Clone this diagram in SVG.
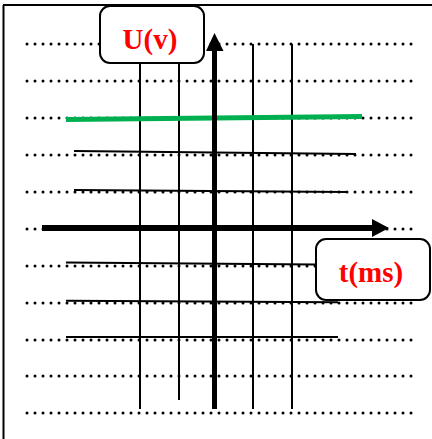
<svg xmlns="http://www.w3.org/2000/svg" width="432" height="439" viewBox="0 0 432 439">
  <style>
    .dots { stroke: #000; stroke-width: 3; stroke-linecap: round; stroke-dasharray: 0 8; fill: none; }
    .solid { stroke: #000; stroke-width: 2; fill: none; }
    .vline { stroke: #000; stroke-width: 2; fill: none; }
    .box { fill: #fff; stroke: #000; stroke-width: 2; }
    .lbl { font-family: "Liberation Serif", "Times New Roman", serif; font-weight: bold; font-size: 29px; fill: #ff0000; text-anchor: middle; }
  </style>
  <rect x="0" y="0" width="432" height="439" fill="#fff"/>
  <g id="frame">
    <line x1="3" y1="5" x2="432" y2="5" stroke="#000" stroke-width="2"/>
    <line x1="3.5" y1="5" x2="3.5" y2="439" stroke="#000" stroke-width="2"/>
  </g>
  <g id="dotted-rows">
    <line class="dots" x1="27" y1="44" x2="412" y2="44"/>
    <line class="dots" x1="27" y1="81" x2="412" y2="81"/>
    <line class="dots" x1="27" y1="118" x2="412" y2="118"/>
    <line class="dots" x1="27" y1="155" x2="412" y2="155"/>
    <line class="dots" x1="27" y1="192" x2="412" y2="192"/>
    <line class="dots" x1="27" y1="229" x2="412" y2="229"/>
    <line class="dots" x1="27" y1="266" x2="412" y2="266"/>
    <line class="dots" x1="27" y1="303" x2="412" y2="303"/>
    <line class="dots" x1="27" y1="340" x2="412" y2="340"/>
    <line class="dots" x1="27" y1="376" x2="412" y2="376"/>
    <line class="dots" x1="27" y1="413" x2="412" y2="413"/>
  </g>
  <g id="connectors">
    <line class="solid" x1="74" y1="151" x2="356" y2="154"/>
    <line class="solid" x1="74" y1="190" x2="347" y2="192"/>
    <line class="solid" x1="66" y1="262.5" x2="316" y2="264.5"/>
    <line class="solid" x1="66" y1="300.7" x2="338" y2="302.3"/>
    <line class="solid" x1="66" y1="337" x2="338" y2="337"/>
    <line class="vline" x1="140" y1="63" x2="140" y2="409"/>
    <line class="vline" x1="179" y1="63" x2="179" y2="400"/>
    <line class="vline" x1="253" y1="44" x2="253" y2="409"/>
    <line class="vline" x1="292" y1="44" x2="292" y2="409"/>
    <line x1="66" y1="119.5" x2="362" y2="116.5" stroke="#00b050" stroke-width="5"/>
    <line x1="42" y1="228" x2="374" y2="228" stroke="#000" stroke-width="6"/>
    <polygon points="372,219 389,228 372,237" fill="#000"/>
    <line x1="214.5" y1="409" x2="214.5" y2="50" stroke="#000" stroke-width="5"/>
    <polygon points="206,51 214.5,33 223.5,51" fill="#000"/>
  </g>
  <g id="node-u">
    <rect class="box" x="100" y="6" width="104" height="57" rx="10"/>
    <text class="lbl" x="150" y="49">U(v)</text>
  </g>
  <g id="node-t">
    <rect class="box" x="316" y="239" width="114" height="61" rx="10"/>
    <text class="lbl" x="371" y="282">t(ms)</text>
  </g>
</svg>
